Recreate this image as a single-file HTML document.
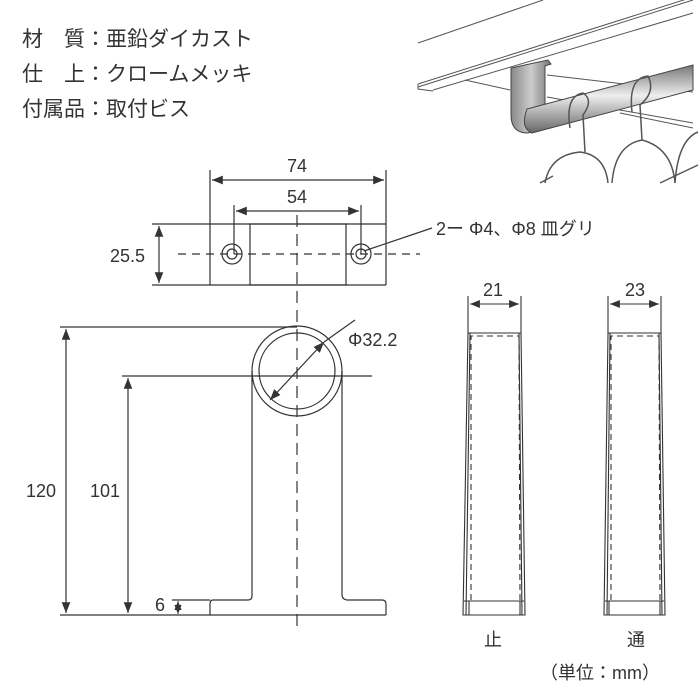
<!DOCTYPE html>
<html><head><meta charset="utf-8"><style>
body{margin:0;background:#fff;width:700px;height:700px;overflow:hidden}
svg{display:block}
text{font-family:"Liberation Sans","Noto Sans CJK JP",sans-serif;fill:#333}
</style></head><body>
<svg width="700" height="700" viewBox="0 0 700 700" xmlns="http://www.w3.org/2000/svg">
<defs>
<marker id="a" viewBox="0 0 10 10" refX="10" refY="5" markerWidth="9" markerHeight="9" orient="auto-start-reverse"><path d="M0,1 L10,5 L0,9 Z" fill="#333"/></marker>
<linearGradient id="g" x1="0" y1="0" x2="0" y2="1"><stop offset="0" stop-color="#777"/><stop offset=".45" stop-color="#eee"/><stop offset="1" stop-color="#666"/></linearGradient>
<linearGradient id="g2" x1="0" y1="0" x2="1" y2="0"><stop offset="0" stop-color="#888"/><stop offset=".5" stop-color="#ccc"/><stop offset="1" stop-color="#777"/></linearGradient>
</defs>
<g font-size="21">
<text x="22" y="46">材　質：亜鉛ダイカスト</text>
<text x="22" y="81">仕　上：クロームメッキ</text>
<text x="22" y="116">付属品：取付ビス</text>
</g>
<!-- photo -->
<g stroke="#555" stroke-width="1" fill="none">
<path d="M418,43 L543,0"/>
<path d="M418,87 L693,0 M418,84 L690,-2 M433,90 L693,13"/>
<path d="M418,84 L418,89 L433,91"/>
<path d="M465,80 L510,90 M547,75 L693,92 M547,97 L693,123 M620,113 L693,128"/>
</g>
<path d="M511,68 L548,60 L551,64 L545,66 L545,128 L528,133 Q511,133 511,115 Z" fill="url(#g2)" stroke="#444"/>
<path d="M527,109 L693,65 L693,90 L532,133 Q520,128 527,109 Z" fill="url(#g)" stroke="#444"/>
<g stroke="#555" fill="none" stroke-width="1.5">
<path d="M570,128 Q565,96 583,93 Q594,100 583,115 L585,152"/>
<path d="M632,112 Q628,78 648,76 Q656,92 640,105 L642,140"/>
<path d="M545,183 Q550,155 580,152 Q605,155 608,183"/>
<path d="M612,183 Q615,145 642,140 Q672,148 675,183"/>
<path d="M675,183 Q678,140 698,132"/>
<path d="M540,183 L553,176 M660,183 L698,165"/>
</g>
<!-- top plate -->
<g stroke="#333" stroke-width="1.2" fill="none">
<line x1="152" y1="224" x2="386" y2="224"/>
<line x1="152" y1="285" x2="386" y2="285"/>
<line x1="210" y1="170" x2="210" y2="285"/>
<line x1="386" y1="170" x2="386" y2="285"/>
<rect x="250" y="224" width="96" height="61"/>
<line x1="234" y1="205" x2="234" y2="254"/>
<line x1="361" y1="205" x2="361" y2="254"/>
<circle cx="232" cy="254" r="10"/><circle cx="232" cy="254" r="5"/>
<circle cx="361" cy="254" r="10"/><circle cx="361" cy="254" r="5"/>
<line x1="212" y1="180" x2="384" y2="180" marker-start="url(#a)" marker-end="url(#a)"/>
<line x1="236" y1="211" x2="359" y2="211" marker-start="url(#a)" marker-end="url(#a)"/>
<line x1="159" y1="226" x2="159" y2="283" marker-start="url(#a)" marker-end="url(#a)"/>
<line x1="364" y1="251" x2="432" y2="228"/>
<line x1="178" y1="254" x2="420" y2="254" stroke-dasharray="8,6"/>
<line x1="297" y1="215" x2="297" y2="628" stroke-dasharray="12,7"/>
</g>
<g font-size="18">
<text x="297" y="172" text-anchor="middle">74</text>
<text x="297" y="203" text-anchor="middle">54</text>
<text x="110" y="262">25.5</text>
<text x="436" y="235">2ー Φ4、Φ8 皿グリ</text>
</g>
<!-- front -->
<g stroke="#333" stroke-width="1.2" fill="none">
<circle cx="297" cy="371" r="45"/>
<circle cx="297" cy="371" r="38"/>
<path d="M252,371 L252,596 Q252,600 248,600 L213,600 Q210,600 210,604 L210,615"/>
<path d="M342,371 L342,594 Q342,600 348,600 L382,600 Q386,600 386,604 L386,615"/>
<line x1="60" y1="615" x2="386" y2="615"/>
<line x1="60" y1="327" x2="297" y2="327"/>
<line x1="122" y1="376" x2="372" y2="376"/>
<line x1="172" y1="600" x2="210" y2="600"/>
<line x1="66" y1="329" x2="66" y2="613" marker-start="url(#a)" marker-end="url(#a)"/>
<line x1="128" y1="378" x2="128" y2="613" marker-start="url(#a)" marker-end="url(#a)"/>
<line x1="178" y1="601" x2="178" y2="614" marker-start="url(#a)" marker-end="url(#a)" stroke-width="1"/>
<line x1="270" y1="400" x2="324" y2="342" marker-start="url(#a)" marker-end="url(#a)"/>
<line x1="324" y1="342" x2="355" y2="320"/>
</g>
<g font-size="18">
<text x="348" y="346">Φ32.2</text>
<text x="26" y="497">120</text>
<text x="90" y="497">101</text>
<text x="155" y="611">6</text>
</g>
<!-- side views -->
<g stroke="#333" stroke-width="1.1" fill="none">
<line x1="468" y1="296" x2="468" y2="333"/><line x1="521" y1="296" x2="521" y2="333"/>
<line x1="470" y1="304" x2="519" y2="304" marker-start="url(#a)" marker-end="url(#a)"/>
<line x1="468" y1="333" x2="521" y2="333"/>
<path d="M468,333 L463,615 L525,615 L521,333"/>
<path d="M470,333 L466,615 M519,333 L522,615"/>
<path d="M471,600 L471,336 L519,336 L520,600" stroke-dasharray="6,4"/>
<line x1="464" y1="601" x2="524" y2="601"/>
<line x1="469" y1="601" x2="469" y2="615"/><line x1="520" y1="601" x2="520" y2="615"/>

<line x1="608" y1="296" x2="608" y2="333"/><line x1="661" y1="296" x2="661" y2="333"/>
<line x1="610" y1="304" x2="659" y2="304" marker-start="url(#a)" marker-end="url(#a)"/>
<line x1="608" y1="333" x2="661" y2="333"/>
<path d="M608,333 L604,615 L665,615 L661,333"/>
<path d="M610,333 L607,615 M659,333 L662,615"/>
<path d="M611,600 L611,336 L659,336 L660,600" stroke-dasharray="6,4"/>
<line x1="605" y1="601" x2="664" y2="601"/>
<line x1="609" y1="601" x2="609" y2="615"/><line x1="660" y1="601" x2="660" y2="615"/>
</g>
<g font-size="18">
<text x="493" y="296" text-anchor="middle">21</text>
<text x="635" y="296" text-anchor="middle">23</text>
<text x="493" y="646" text-anchor="middle">止</text>
<text x="636" y="646" text-anchor="middle">通</text>
<text x="540" y="679">（単位：mm）</text>
</g>
</svg>
</body></html>
